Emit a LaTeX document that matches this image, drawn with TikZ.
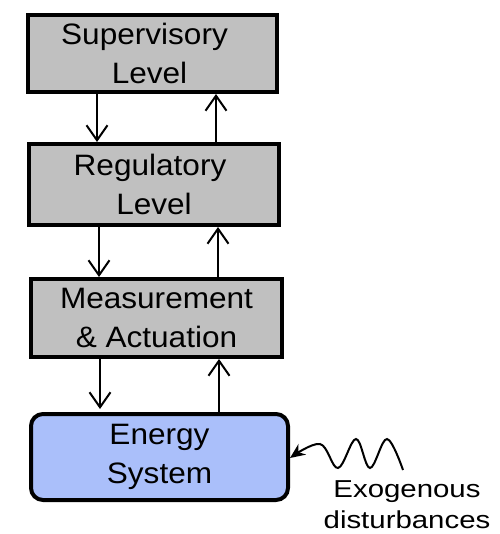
\documentclass[tikz,border=0pt]{standalone}
\usepackage{fontspec}
\setmainfont{Liberation Sans}
\newfontfamily\boxfont{Liberation Sans}[FakeStretch=1.07]
\newfontfamily\capfont{Liberation Sans}[FakeStretch=1.2]
\usetikzlibrary{arrows.meta}
\definecolor{levelgray}{RGB}{192,192,192}
\definecolor{sysblue}{RGB}{170,191,250}
\tikzset{
  level/.style={draw=black, line width=4pt, fill=levelgray, align=center,
    inner sep=0pt, font=\boxfont\fontsize{29.5}{38.5}\selectfont},
  plant/.style={level, fill=sysblue, rounded corners=12pt},
  link/.style={line width=2pt, -{Straight Barb[length=15pt,width=21pt,line width=2pt]}},
  wave/.style={line width=2pt, -{Stealth[length=15pt,width=13pt]}},
  caption/.style={align=center, inner sep=0pt, font=\capfont\fontsize{24.5}{31}\selectfont}
}
\begin{document}
\begin{tikzpicture}[x=1pt,y=-1pt]
\useasboundingbox (0,0) rectangle (499,534);

% control hierarchy
\node[level, minimum width=249pt, minimum height=77pt] (sup) at (152.5,53.5)
  {Supervisory\hspace*{16pt}\\Level\hspace*{6pt}};
\node[level, minimum width=250pt, minimum height=81pt] (reg) at (154,184.5)
  {Regulatory\hspace*{8pt}\\Level};
\node[level, minimum width=251pt, minimum height=78pt] (mea) at (156.5,318)
  {Measurement\\\& Actuation};
\node[plant, minimum width=257pt, minimum height=86pt] (sys) at (159.5,457)
  {Energy\\System};

% columns of the downward and upward links
\coordinate (d1) at (97,0);
\coordinate (u1) at (216,0);
\coordinate (d2) at (99,0);
\coordinate (u2) at (218,0);
\coordinate (d3) at (100,0);
\coordinate (u3) at (219,0);

\draw[link] (sup.south -| d1) -- (reg.north -| d1);
\draw[link] (reg.north -| u1) -- (sup.south -| u1);
\draw[link] (reg.south -| d2) -- (mea.north -| d2);
\draw[link] (mea.north -| u2) -- (reg.south -| u2);
\draw[link] (mea.south -| d3) -- ([yshift=3pt]sys.north -| d3);
\draw[link] (sys.north -| u3) -- (mea.south -| u3);

% disturbance entering the plant
\coordinate (w0) at (403,470);
\draw[wave] plot[smooth, tension=0.6] coordinates
  {(w0) (387,439) (370,468) (356,439) (338,468) (320,444) ([yshift=-1pt]sys.east)};
\node[caption, anchor=north] (dist) at (407,480.5) {Exogenous\\disturbances};
\end{tikzpicture}
\end{document}
